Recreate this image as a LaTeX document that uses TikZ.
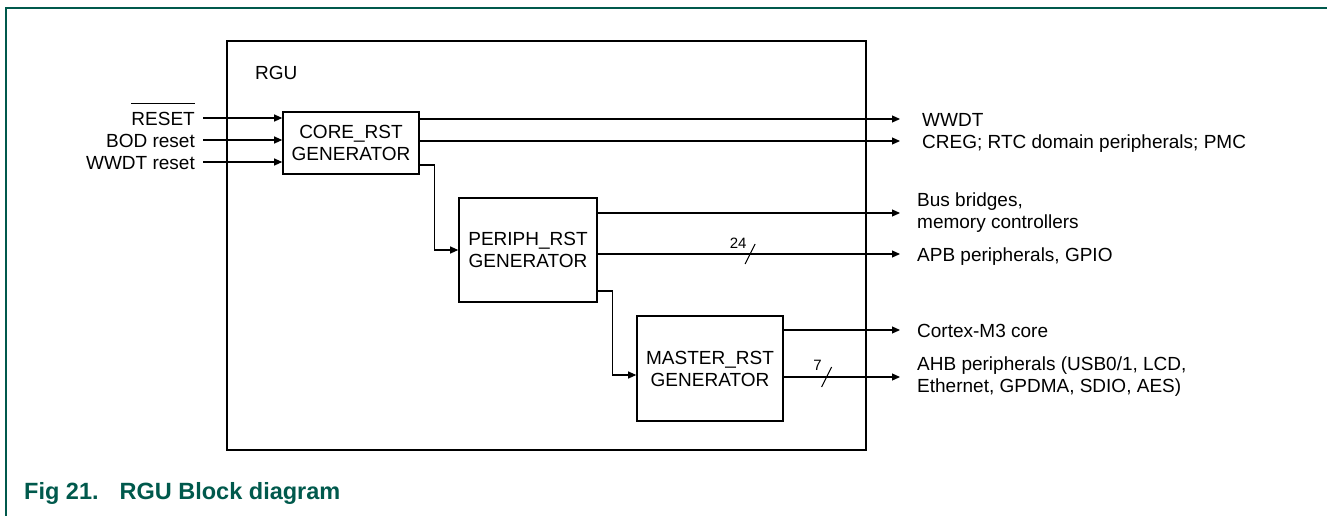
\documentclass[tikz,border=0pt]{standalone}
\usepackage{fontspec}
\setmainfont{Liberation Sans}
\usetikzlibrary{arrows.meta,positioning}
\definecolor{nxpgreen}{HTML}{00594C}
\newcommand{\barred}[1]{\vbox{\hrule height 1.2pt\kern 7.5pt\hbox{#1}}}

\begin{document}
\begin{tikzpicture}[x=1pt, y=-1pt,
    font=\fontsize{19}{22}\selectfont,
    gen/.style={draw, line width=1.6pt, align=center, inner sep=0pt},
    arr/.style={-{Triangle[length=8pt,width=7pt]}, line width=1.1pt},
    lbl/.style={inner sep=0pt, text height=14pt, text depth=0pt},
    mlbl/.style={inner sep=0pt, align=left},
    buslbl/.style={inner sep=0pt, font=\fontsize{15}{18}\selectfont},
    slash/.style={line width=1pt}
]
\useasboundingbox (0,0) rectangle (1327,515);
\draw[nxpgreen, line width=1.6pt] (6,520) -- (6,8) -- (1330,8);

\node[draw, line width=1.6pt, minimum width=639pt, minimum height=409pt] (rgu) at (546.5,245.5) {};
\node[lbl, anchor=west] (rgulbl) at (255,72) {RGU};

\node[gen, minimum width=136pt, minimum height=62pt] (core) at (351,143) {CORE\_RST\\GENERATOR};
\node[gen, minimum width=138pt, minimum height=104pt] (periph) at (528,250) {PERIPH\_RST\\GENERATOR};
\node[gen, minimum width=146pt, minimum height=105pt] (master) at (710,368.5) {MASTER\_RST\\GENERATOR};

\coordinate (inx) at (203,0);
\coordinate (outx) at (900,0);

\node[lbl, anchor=east] (rst) at (195,118) {\barred{RESET}};
\node[lbl, anchor=east] (bod) at (195,140) {BOD reset};
\node[lbl, anchor=east] (wdtin) at (195,162) {WWDT reset};

\node[lbl, anchor=west] (wwdt) at (922,119) {WWDT};
\node[lbl, anchor=west] (creg) at (922,141) {CREG; RTC domain peripherals; PMC};
\node[mlbl, anchor=west] (bridges) at (917,213) {Bus bridges,\\memory controllers};
\node[lbl, anchor=west] (apb) at (917,254) {APB peripherals, GPIO};
\node[lbl, anchor=west] (cortex) at (917,330) {Cortex-M3 core};
\node[mlbl, anchor=west] (ahb) at (917,377) {AHB peripherals (USB0/1, LCD,\\Ethernet, GPDMA, SDIO, AES)};

\draw[arr] (inx |- rst) -- (core.west |- rst);
\draw[arr] (inx |- bod) -- (core.west |- bod);
\draw[arr] (inx |- wdtin) -- (core.west |- wdtin);

\draw[arr] (core.east |- wwdt) -- (outx |- wwdt);
\draw[arr] (core.east |- creg) -- (outx |- creg);
\draw[arr] ([yshift=-22pt]core.east) -- ++(15,0) |- (periph.west);

\draw[arr] (periph.east |- bridges) -- (outx |- bridges);
\draw[arr] (periph.east |- apb) -- coordinate[pos=0.504] (cut24) (outx |- apb);
\draw[slash] ([shift={(-5,10)}]cut24) -- ([shift={(5,-10)}]cut24);
\node[buslbl] (n24) at ([shift={(-12,-11)}]cut24) {24};
\draw[arr] ([yshift=-41pt]periph.east) -- ++(15,0) |- ([yshift=-6.5pt]master.west);

\draw[arr] (master.east |- cortex) -- (outx |- cortex);
\draw[arr] (master.east |- ahb) -- coordinate[pos=0.368] (cut7) (outx |- ahb);
\draw[slash] ([shift={(-5,10)}]cut7) -- ([shift={(5,-10)}]cut7);
\node[buslbl] (n7) at ([shift={(-9,-12)}]cut7) {7};

\node[anchor=base west, inner sep=0pt, text=nxpgreen, font=\fontsize{23.5}{26}\selectfont\bfseries] (cap) at (24,499) {Fig 21.\hspace{21pt}RGU Block diagram};
\end{tikzpicture}
\end{document}
